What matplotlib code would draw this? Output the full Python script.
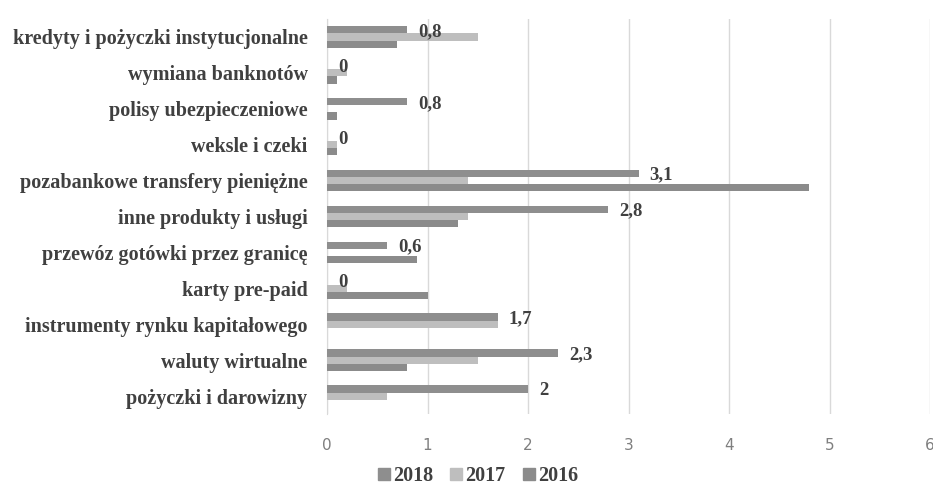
import numpy as np
import matplotlib.pyplot as plt

categories = [
    "kredyty i pożyczki instytucjonalne",
    "wymiana banknotów",
    "polisy ubezpieczeniowe",
    "weksle i czeki",
    "pozabankowe transfery pieniężne",
    "inne produkty i usługi",
    "przewóz gotówki przez granicę",
    "karty pre-paid",
    "instrumenty rynku kapitałowego",
    "waluty wirtualne",
    "pożyczki i darowizny",
]
v2018 = [0.8, 0, 0.8, 0, 3.1, 2.8, 0.6, 0, 1.7, 2.3, 2]
v2017 = [1.5, 0.2, 0, 0.1, 1.4, 1.4, 0, 0.2, 1.7, 1.5, 0.6]
v2016 = [0.7, 0.1, 0.1, 0.1, 4.8, 1.3, 0.9, 1.0, 0, 0.8, 0]
years = ["2018", "2017", "2016"]
colors = ["#8e8e8e", "#bebebe", "#8b8b8b"]

serif = "Liberation Serif"
text_col = "#404040"

fig = plt.figure(figsize=(9.33, 4.86), dpi=100)
ax = fig.add_axes([0.3505, 0.148, 0.6463, 0.813])

y = np.arange(len(categories))
h = 0.2
series = [v2018, v2017, v2016]
for i, (vals, col, lab) in enumerate(zip(series, colors, years)):
    ax.barh(y + (i - 1) * h, vals, height=h, color=col, label=lab, zorder=3)

# labels only on the 2018 series
for yi, v in zip(y, v2018):
    ax.text(v + 0.11, yi - h + 0.05, f"{v:g}".replace(".", ","), va="center", ha="left",
            fontsize=13.5, fontweight="bold", family=serif, color=text_col)

ax.set_xlim(0, 6)
ax.set_ylim(len(categories) - 0.5, -0.5)
ax.set_xticks(range(7))
ax.tick_params(axis="x", length=0, pad=17, labelsize=11, labelcolor="#7f7f7f")
ax.set_yticks(y)
ax.set_yticklabels(categories, fontsize=14.5, fontweight="bold", family=serif, color=text_col)
ax.tick_params(axis="y", length=0, pad=14)
ax.grid(axis="x", color="#d9d9d9", linewidth=1, zorder=0)
for s in ["top", "right", "bottom"]:
    ax.spines[s].set_visible(False)
ax.spines["left"].set_color("#d9d9d9")

handles = [plt.Line2D([], [], marker="s", linestyle="", color=c, markersize=8) for c in colors]
fig.legend(handles, years, loc="center", bbox_to_anchor=(475 / 933, 1 - 476 / 486), ncol=3,
           frameon=False, handletextpad=-0.15, columnspacing=0.55, handlelength=1.2,
           prop={"family": serif, "weight": "bold", "size": 14.5}, labelcolor=text_col)

fig.savefig("out.png", dpi=100)
